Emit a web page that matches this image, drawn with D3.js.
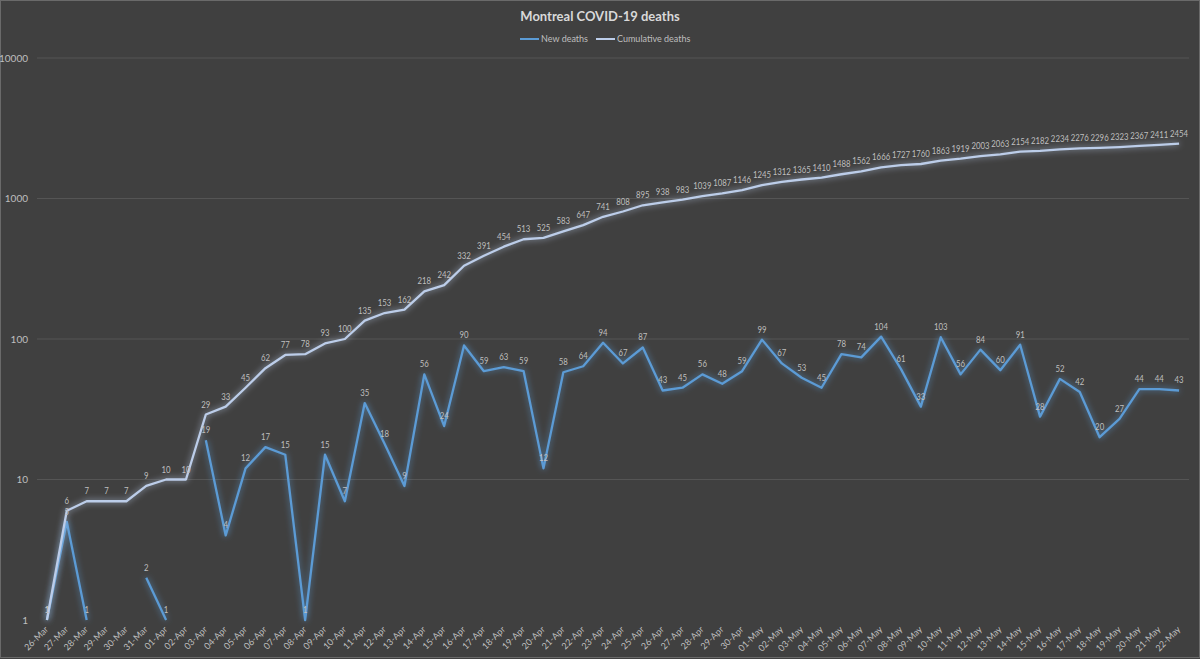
<!DOCTYPE html>
<html>
<head>
<meta charset="utf-8">
<script src="https://cdnjs.cloudflare.com/ajax/libs/d3/7.8.5/d3.min.js"></script>
<style>
  body { margin: 0; background: #404040; }
  svg text { font-family: Lato, "Open Sans", sans-serif; }
</style>
</head>
<body>
<svg id="chart" width="1200" height="659"></svg>
<script>
// data
var dates = ["26-Mar","27-Mar","28-Mar","29-Mar","30-Mar","31-Mar",
  "01-Apr","02-Apr","03-Apr","04-Apr","05-Apr","06-Apr","07-Apr","08-Apr","09-Apr","10-Apr",
  "11-Apr","12-Apr","13-Apr","14-Apr","15-Apr","16-Apr","17-Apr","18-Apr","19-Apr","20-Apr",
  "21-Apr","22-Apr","23-Apr","24-Apr","25-Apr","26-Apr","27-Apr","28-Apr","29-Apr","30-Apr",
  "01-May","02-May","03-May","04-May","05-May","06-May","07-May","08-May","09-May","10-May",
  "11-May","12-May","13-May","14-May","15-May","16-May","17-May","18-May","19-May","20-May",
  "21-May","22-May"];

var newDeaths = [1,5,1,0,0,2,
  1,0,19,4,12,17,15,1,15,7,
  35,18,9,56,24,90,59,63,59,12,
  58,64,94,67,87,43,45,56,48,59,
  99,67,53,45,78,74,104,61,33,103,
  56,84,60,91,28,52,42,20,27,44,
  44,43];

var cumulativeDeaths = [1,6,7,7,7,9,
  10,10,29,33,45,62,77,78,93,100,
  135,153,162,218,242,332,391,454,513,525,
  583,647,741,808,895,938,983,1039,1087,1146,
  1245,1312,1365,1410,1488,1562,1666,1727,1760,1863,
  1919,2003,2063,2154,2182,2234,2276,2296,2323,2367,
  2411,2454];

var yTicks = [1,10,100,1000,10000];

var seriesNames = ["New deaths", "Cumulative deaths"];
var seriesColors = ["#5b9bd5", "#bccde9"];

var svg = d3.select("#chart");

// border
svg.append("rect")
    .attr("x", 0.5).attr("y", 0.5)
    .attr("width", 1199).attr("height", 657)
    .style("fill", "#404040")
    .style("stroke", "#6a6a6a");

var defs = svg.append("defs");
var glow = defs.append("filter").attr("id", "glow")
    .attr("x", "-10%").attr("y", "-10%").attr("width", "120%").attr("height", "120%");
glow.append("feGaussianBlur").attr("in", "SourceGraphic").attr("stdDeviation", 3).attr("result", "blur");
glow.append("feComponentTransfer").attr("in", "blur").attr("result", "soft")
    .append("feFuncA").attr("type", "linear").attr("slope", 0.8);
var merge = glow.append("feMerge");
merge.append("feMergeNode").attr("in", "soft");
merge.append("feMergeNode").attr("in", "SourceGraphic");

var x = d3.scaleBand().domain(dates).range([37, 1189]);
var y = d3.scaleLog().domain([1, 10000]).range([620, 58]);
var cx = function (d) { return x(d) + x.bandwidth() / 2; };

// gridlines
svg.append("g")
    .selectAll("line")
    .data(yTicks.slice(1))
    .enter().append("line")
    .attr("x1", 37).attr("x2", 1189)
    .attr("y1", function (d) { return y(d); })
    .attr("y2", function (d) { return y(d); })
    .style("stroke", "#555555")
    .style("stroke-width", 1);

// y axis
var yAxis = svg.append("g")
    .attr("transform", "translate(30,0)")
    .call(d3.axisLeft(y).tickValues(yTicks).tickFormat(d3.format("d")).tickSize(0).tickPadding(2));
yAxis.select(".domain").remove();
yAxis.selectAll("text").style("fill", "#bfbfbf").style("font-size", "10px");

// x axis
var xAxis = svg.append("g")
    .attr("transform", "translate(0,620)")
    .call(d3.axisBottom(x).tickSize(0));
xAxis.select(".domain").remove();
xAxis.selectAll("text")
    .style("fill", "#bfbfbf")
    .style("font-size", "9px")
    .style("text-anchor", "end")
    .attr("dy", null)
    .attr("y", 0)
    .attr("transform", "translate(2,10) rotate(-45)");

var seriesList = [newDeaths, cumulativeDeaths];

seriesList.forEach(function (values, s) {
    var line = d3.line()
        .defined(function (d) { return d > 0; })
        .x(function (d, i) { return cx(dates[i]); })
        .y(function (d) { return y(d); });

    svg.append("path")
        .datum(values)
        .attr("d", line)
        .attr("filter", "url(#glow)")
        .style("fill", "none")
        .style("stroke", seriesColors[s])
        .style("stroke-width", 2.3)
        .style("stroke-linejoin", "round");
});

seriesList.forEach(function (values, s) {
    var pts = values.map(function (v, i) { return { date: dates[i], value: v }; })
        .filter(function (p) { return p.value > 0; });

    // labels squeezed a bit to mimic the narrow original font
    svg.append("g")
        .selectAll("text")
        .data(pts)
        .enter().append("text")
        .attr("transform", function (p) {
            return "translate(" + cx(p.date) + "," + (y(p.value) - 7) + ") scale(0.78,1)";
        })
        .attr("text-anchor", "middle")
        .style("fill", "#bfbfbf")
        .style("font-size", "10px")
        .text(function (p) { return p.value; });
});

// title
svg.append("text")
    .attr("x", 600).attr("y", 21)
    .attr("text-anchor", "middle")
    .style("fill", "#d9d9d9")
    .style("font-size", "13px")
    .style("font-weight", "bold")
    .text("Montreal COVID-19 deaths");

// legend
var legendX = [520, 596];
seriesNames.forEach(function (name, s) {
    var g = svg.append("g").attr("transform", "translate(" + legendX[s] + ",39)");
    g.append("line")
        .attr("x1", 0).attr("x2", 19)
        .style("stroke", seriesColors[s])
        .style("stroke-width", 2);
    g.append("text")
        .attr("x", 21).attr("y", 3)
        .style("fill", "#bfbfbf")
        .style("font-size", "9px")
        .text(name);
});
</script>
</body>
</html>
